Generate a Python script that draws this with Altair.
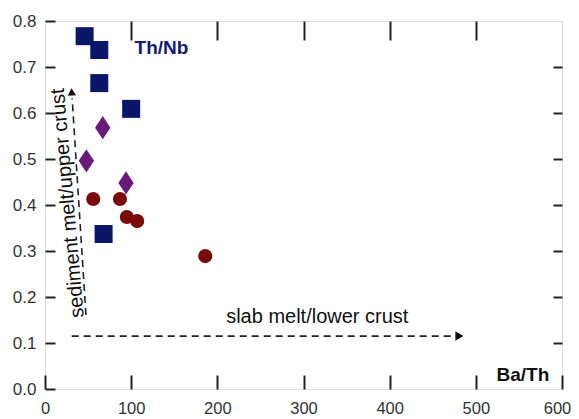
import altair as alt
import pandas as pd

# ---- data ----
square_x = [46, 63, 63, 100, 68]
square_y = [0.767, 0.737, 0.665, 0.609, 0.337]

diamond_x = [67, 48, 94]
diamond_y = [0.568, 0.496, 0.448]

circle_x = [56, 87, 95, 107, 186]
circle_y = [0.413, 0.413, 0.374, 0.365, 0.289]

x_ticks = [0, 100, 200, 300, 400, 500, 600]
y_ticks = [0.0, 0.1, 0.2, 0.3, 0.4, 0.5, 0.6, 0.7, 0.8]
x_inner_ticks = [100, 200, 300, 400, 500]
y_inner_ticks = [0.1, 0.2, 0.3, 0.4, 0.5, 0.6, 0.7]

# annotation texts
label_thnb = "Th/Nb"
label_bath = "Ba/Th"
label_slab = "slab melt/lower crust"
label_sed = "sediment melt/upper crust"

# arrows (data units)
h_arrow = {"x": 31, "x2": 478, "y": 0.115, "y2": 0.115}
h_head = {"x": 481, "y": 0.115}
v_arrow = {"x": 47.5, "x2": 31.5, "y": 0.161, "y2": 0.632}
v_head = {"x": 31.0, "y": 0.646}

FONT = "Liberation Sans"
W, H = 517, 368

xs = alt.Scale(domain=[0, 600], nice=False, zero=False)
ys = alt.Scale(domain=[0, 0.8], nice=False, zero=False)

sq = pd.DataFrame({"x": square_x, "y": square_y})
di = pd.DataFrame({"x": diamond_x, "y": diamond_y})
ci = pd.DataFrame({"x": circle_x, "y": circle_y})

bottom_axis = alt.Axis(orient="bottom", values=x_ticks, offset=-14, tickSize=14,
                       tickWidth=2, tickColor="#222", domain=False, grid=False,
                       labelFontSize=16.5, labelFont=FONT, labelColor="#333",
                       labelPadding=11, labelFlush=False, labelOverlap=False, title=None,
                       labelOffset={"condition": {"test": "datum.value >= 600", "value": -5},
                                    "value": 0})
left_axis = alt.Axis(orient="left", values=y_ticks, format=".1f", offset=-10, tickSize=10,
                     tickWidth=2, tickColor="#222", domain=False, grid=False,
                     labelFontSize=17, labelFont=FONT, labelColor="#333",
                     labelPadding=9, labelOverlap=False, title=None)
top_axis = alt.Axis(orient="top", values=x_inner_ticks, offset=-19, tickSize=19,
                    tickWidth=2, tickColor="#222", domain=False, grid=False,
                    labels=False, title=None)
right_axis = alt.Axis(orient="right", values=y_inner_ticks, offset=-9, tickSize=9,
                      tickWidth=2, tickColor="#222", domain=False, grid=False,
                      labels=False, title=None)

squares = alt.Chart(sq).mark_point(shape="square", filled=True, size=324,
                                   color="#0b1668", opacity=1).encode(
    x=alt.X("x:Q", scale=xs, axis=bottom_axis),
    y=alt.Y("y:Q", scale=ys, axis=left_axis),
)

diamonds = alt.Chart(di).mark_point(shape="M0,-1L0.66,0L0,1L-0.66,0Z", filled=True,
                                    size=540, color="#6a1a7c", opacity=1).encode(
    x=alt.X("x:Q", scale=xs, axis=top_axis),
    y=alt.Y("y:Q", scale=ys, axis=right_axis),
)

circles = alt.Chart(ci).mark_point(shape="circle", filled=True, size=200,
                                   color="#7a0b0b", opacity=1).encode(
    x=alt.X("x:Q", scale=xs, axis=None),
    y=alt.Y("y:Q", scale=ys, axis=None),
)

h_rule = alt.Chart(pd.DataFrame([h_arrow])).mark_rule(
    color="#222", strokeWidth=1.6, strokeDash=[7, 5]).encode(
    x=alt.X("x:Q", scale=xs, axis=None), x2="x2:Q",
    y=alt.Y("y:Q", scale=ys, axis=None), y2="y2:Q",
)
v_rule = alt.Chart(pd.DataFrame([v_arrow])).mark_rule(
    color="#222", strokeWidth=1.6, strokeDash=[7, 5]).encode(
    x=alt.X("x:Q", scale=xs, axis=None), x2="x2:Q",
    y=alt.Y("y:Q", scale=ys, axis=None), y2="y2:Q",
)
h_tip = alt.Chart(pd.DataFrame([h_head])).mark_point(
    shape="triangle-right", filled=True, size=90, color="#111", opacity=1).encode(
    x=alt.X("x:Q", scale=xs, axis=None), y=alt.Y("y:Q", scale=ys, axis=None))
v_tip = alt.Chart(pd.DataFrame([v_head])).mark_point(
    shape="triangle-up", filled=True, size=70, color="#111", opacity=1, angle=356).encode(
    x=alt.X("x:Q", scale=xs, axis=None), y=alt.Y("y:Q", scale=ys, axis=None))

def text_layer(txt, x, y, **kw):
    return alt.Chart(pd.DataFrame({"t": [txt], "x": [x], "y": [y]})).mark_text(
        font=FONT, baseline="middle", **kw).encode(
        x=alt.X("x:Q", scale=xs, axis=None),
        y=alt.Y("y:Q", scale=ys, axis=None),
        text="t:N")

t_thnb = text_layer(label_thnb, 104, 0.741, align="left", fontSize=19,
                    fontWeight="bold", color="#141a78")
t_bath = text_layer(label_bath, 524, 0.030, align="left", fontSize=19,
                    fontWeight="bold", color="#111")
t_slab = text_layer(label_slab, 316, 0.157, align="center", fontSize=20, color="#111")
t_sed = text_layer(label_sed, 26.5, 0.404, align="center", fontSize=20, color="#111",
                   angle=265)

chart = alt.layer(
    squares, diamonds, circles, h_rule, v_rule, h_tip, v_tip,
    t_thnb, t_bath, t_slab, t_sed,
).resolve_axis(x="independent", y="independent").properties(
    width=W, height=H,
    autosize=alt.AutoSizeParams(type="none"),
    padding={"left": 37, "top": 13, "right": 9, "bottom": 30},
).configure_view(stroke="#111", strokeWidth=2.6).configure(background="white")

chart.save("out.html", embed_options={"renderer": "svg", "actions": False})
